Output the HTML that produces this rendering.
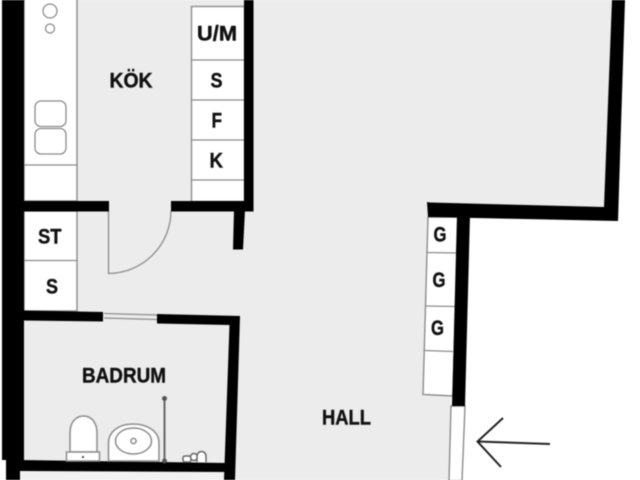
<!DOCTYPE html>
<html>
<head>
<meta charset="utf-8">
<style>
html,body{margin:0;padding:0;background:#fff;width:640px;height:480px;overflow:hidden}
svg{display:block;position:absolute;left:0;top:0}
text{font-family:"Liberation Sans",sans-serif;font-weight:bold;font-size:21px;fill:#111;stroke:#111;stroke-width:0.4px}
</style>
</head>
<body>
<svg width="640" height="480" viewBox="0 0 640 480" xmlns="http://www.w3.org/2000/svg">
<rect width="640" height="480" fill="#fff"/>
<g style="filter:blur(0.5px)">
<!-- floor -->
<polygon points="20,0 618,0 610,207 430,204 428,217 456,217 449,480 20,480" fill="#ececec"/>
<rect x="20" y="471" width="210" height="9" fill="#f1f1f1"/>

<!-- white units -->
<g fill="#fff" stroke="#8c8c8c" stroke-width="1.4">
<rect x="24" y="-2" width="53" height="203"/>
<rect x="24" y="211" width="53" height="100"/>
<rect x="191.500" y="6.500" width="53" height="195"/>
<polygon points="428,217 458,217 453,396 423,394.500"/>
<polygon points="451,406 465,406 462,481 449,481"/>
</g>
<g stroke="#8c8c8c" stroke-width="1.3" fill="none">
<path d="M24 165H77M24 260.500H77M191.500 60H244M191.500 100H244M191.500 140H244M191.500 180H244"/>
<path d="M427 252.500L457 253M426 306L455 306.500M424.500 350.500L453 351.500"/>
<path d="M108.500 211V273.500A63 63 0 0 0 171 211"/>
<path d="M104 313.500L157 315M104 318L157 319.500"/>
<circle cx="50" cy="11" r="7"/>
<circle cx="50" cy="28.500" r="4.500"/>
<rect x="35" y="101" width="31" height="25.500" rx="6"/>
<rect x="35" y="128.500" width="31" height="25.500" rx="6"/>
</g>

<!-- walls -->
<g fill="#000">
<polygon points="2,0 24,0 24,460 20,460 20,480 6,480 6,460 2,460"/>
<rect x="244" y="0" width="9.500" height="210"/>
<rect x="24" y="201" width="85" height="10.500"/>
<rect x="171" y="201" width="82.500" height="10.500"/>
<polygon points="234,210 245,210 243,249.500 233,249.500"/>
<polygon points="24,310.500 103,312 103,321.500 24,320.500"/>
<polygon points="157,314 240,316 235,480 224,480 229.500,325 157,323.500"/>
<polygon points="20,460 226,463 226,472 20,471"/>
<polygon points="612,0 625,0 618,221 428,217 427,202 430,202.500 604,207"/>
<polygon points="457,215 470,215 465,406 452,406"/>
</g>

<!-- bathroom fixtures -->
<g fill="#fff" stroke="#8c8c8c" stroke-width="1.5">
<path d="M70 452V433C70 421 77 416 83.500 416C90 416 97 421 97 433V452Z"/>
<rect x="66.500" y="452" width="33" height="9"/>
<path d="M108.500 461V443C108.500 431 120 424 133 424C147 424 159 431 159 443V461Z"/>
<ellipse cx="133.500" cy="441" rx="18" ry="13"/>
<circle cx="133.500" cy="441" r="2.600"/>
</g>
<circle cx="83" cy="457" r="1" fill="#222"/>
<path d="M164.500 398V461" stroke="#666" stroke-width="2" fill="none"/>
<circle cx="164.500" cy="398.500" r="2.500" fill="#555"/>
<circle cx="164.500" cy="461" r="2.500" fill="#555"/>
<g fill="#fff" stroke="#666" stroke-width="1.500">
<rect x="183" y="456" width="8" height="6" rx="2"/>
<circle cx="194" cy="457" r="3.500"/>
<path d="M197 462V456A4.500 4.500 0 0 1 206 456V462"/>
</g>

<!-- arrow -->
<path d="M550 444L478 441.500M503 418L477.500 441.500L501 467" fill="none" stroke="#222" stroke-width="2"/>

<!-- labels -->
<text x="109.500" y="87.500" textLength="43" lengthAdjust="spacingAndGlyphs">KÖK</text>
<text x="197" y="40.500" textLength="40" lengthAdjust="spacingAndGlyphs">U/M</text>
<text x="210.500" y="87.500" textLength="12" lengthAdjust="spacingAndGlyphs">S</text>
<text x="211.500" y="127.500" textLength="10.500" lengthAdjust="spacingAndGlyphs">F</text>
<text x="209.500" y="167.500" textLength="13.500" lengthAdjust="spacingAndGlyphs">K</text>
<text x="38" y="243.500" textLength="23.500" lengthAdjust="spacingAndGlyphs">ST</text>
<text x="46" y="293.500" textLength="12" lengthAdjust="spacingAndGlyphs">S</text>
<text x="82" y="382.500" textLength="84" lengthAdjust="spacingAndGlyphs">BADRUM</text>
<text x="322" y="424.500" textLength="49" lengthAdjust="spacingAndGlyphs">HALL</text>
<text x="433.500" y="241.500" textLength="13" lengthAdjust="spacingAndGlyphs">G</text>
<text x="432.500" y="287" textLength="13" lengthAdjust="spacingAndGlyphs">G</text>
<text x="431" y="335" textLength="13" lengthAdjust="spacingAndGlyphs">G</text>
</g>
</svg>
</body>
</html>
